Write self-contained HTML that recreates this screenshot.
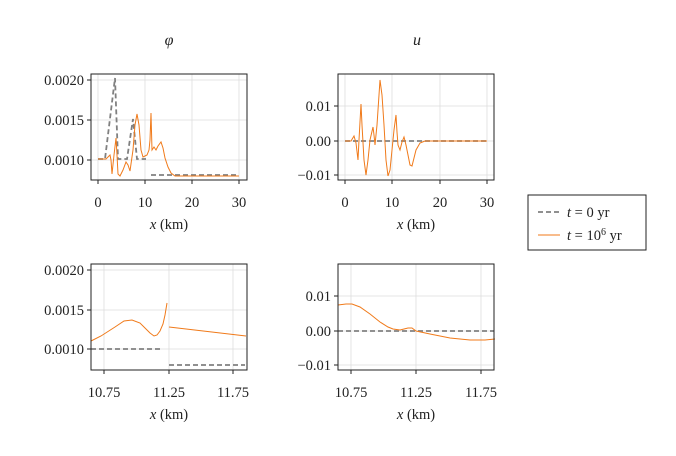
<!DOCTYPE html>
<html><head><meta charset="utf-8"><style>
body{margin:0;background:#fff}
svg text{font-family:"Liberation Serif","DejaVu Serif",serif;fill:#222}
</style></head><body>
<svg width="676" height="451" xmlns="http://www.w3.org/2000/svg">
<rect width="676" height="451" fill="#fff"/>
<g stroke="#ddd" stroke-width="0.8">
<line x1="98" y1="74" x2="98" y2="180"/><line x1="145" y1="74" x2="145" y2="180"/><line x1="192" y1="74" x2="192" y2="180"/><line x1="239" y1="74" x2="239" y2="180"/>
<line x1="91" y1="80" x2="247" y2="80"/><line x1="91" y1="120" x2="247" y2="120"/><line x1="91" y1="160" x2="247" y2="160"/>
<line x1="345" y1="74" x2="345" y2="180"/><line x1="392" y1="74" x2="392" y2="180"/><line x1="440" y1="74" x2="440" y2="180"/><line x1="487" y1="74" x2="487" y2="180"/>
<line x1="338" y1="106" x2="494" y2="106"/><line x1="338" y1="141" x2="494" y2="141"/><line x1="338" y1="175" x2="494" y2="175"/>
<line x1="104" y1="264" x2="104" y2="370"/><line x1="169" y1="264" x2="169" y2="370"/><line x1="233" y1="264" x2="233" y2="370"/>
<line x1="91" y1="270" x2="247" y2="270"/><line x1="91" y1="310" x2="247" y2="310"/><line x1="91" y1="349" x2="247" y2="349"/>
<line x1="351" y1="264" x2="351" y2="370"/><line x1="416" y1="264" x2="416" y2="370"/><line x1="481" y1="264" x2="481" y2="370"/>
<line x1="338" y1="296" x2="494" y2="296"/><line x1="338" y1="331" x2="494" y2="331"/><line x1="338" y1="365" x2="494" y2="365"/>
</g>
<g fill="none" stroke="#808080" stroke-width="1.8" stroke-dasharray="5,3">
<polyline points="98,159 105,159 115,78 118,159 127,159 133,119 137,159 146,159"/>
<polyline points="151,175 239,175"/>
<polyline points="345,141 487,141"/>
<polyline points="91,349 163,349"/><polyline points="169,365 245,365"/>
<polyline points="338,331 494,331"/>
</g>
<g fill="none" stroke="#f07a1a" stroke-width="1">
<polyline points="98,159 106,159 109,156 110,155 111,160 112,174 114,155 116,138 117,155 118,174 120,176 123,170 126,162 128,165 130,171 133,150 135,125 137,114 139,125 141,150 143,157 147,155 149,150 150,140 151,113 152,150 154,147 156,150 158,146 161,142 163,148 165,158 168,167 171,173 175,176 239,176"/>
<polyline points="345,141 351,141 354,136 356,143 358,160 359,140 361,104 362,125 364,160 366,175 368,160 370,140 373,127 374,135 375,145 377,125 379,95 380,80 382,95 384,125 386,160 388,176 390,170 392,150 394,130 396,115 397,132 398,145 400,150 402,142 404,137 406,145 408,155 410,165 412,166 414,158 416,150 420,143 425,141 487,141"/>
<polyline points="91,341 101,336 115,327 124,321 132,320 140,323 146,329 150,333 154,336 157,335 160,331 163,324 165,315 167,303"/>
<polyline points="169,327 246,336"/>
<polyline points="338,305 346,304 352,304 360,307 370,314 380,322 388,327 393,329 400,330 404,329 408,328 412,328 416,331 430,334 450,338 470,340 485,340 495,339"/>
</g>
<g fill="none" stroke="#222" stroke-width="1">
<rect x="91" y="74" width="156" height="106"/><rect x="338" y="74" width="156" height="106"/>
<rect x="91" y="264" width="156" height="106"/><rect x="338" y="264" width="156" height="106"/>
<path d="M98,180v4M145,180v4M192,180v4M239,180v4M91,80h-4M91,120h-4M91,160h-4"/>
<path d="M345,180v4M392,180v4M440,180v4M487,180v4M338,106h-4M338,141h-4M338,175h-4"/>
<path d="M104,370v4M169,370v4M233,370v4M91,270h-4M91,310h-4M91,349h-4"/>
<path d="M351,370v4M416,370v4M481,370v4M338,296h-4M338,331h-4M338,365h-4"/>
</g>
<g font-size="14.5">
<text x="169" y="45" text-anchor="middle" font-style="italic" font-size="16">φ</text>
<text x="417" y="45" text-anchor="middle" font-style="italic" font-size="16">u</text>
<g text-anchor="end">
<text x="84" y="85">0.0020</text><text x="84" y="125">0.0015</text><text x="84" y="165">0.0010</text>
<text x="331" y="111">0.01</text><text x="331" y="146">0.00</text><text x="331" y="180">−0.01</text>
<text x="84" y="275">0.0020</text><text x="84" y="315">0.0015</text><text x="84" y="354">0.0010</text>
<text x="331" y="301">0.01</text><text x="331" y="336">0.00</text><text x="331" y="370">−0.01</text>
</g>
<g text-anchor="middle">
<text x="98" y="207">0</text><text x="145" y="207">10</text><text x="192" y="207">20</text><text x="239" y="207">30</text>
<text x="345" y="207">0</text><text x="392" y="207">10</text><text x="440" y="207">20</text><text x="487" y="207">30</text>
<text x="104" y="397">10.75</text><text x="169" y="397">11.25</text><text x="233" y="397">11.75</text>
<text x="351" y="397">10.75</text><text x="416" y="397">11.25</text><text x="481" y="397">11.75</text>
<text x="169" y="229"><tspan font-style="italic">x</tspan> (km)</text>
<text x="416" y="229"><tspan font-style="italic">x</tspan> (km)</text>
<text x="169" y="419"><tspan font-style="italic">x</tspan> (km)</text>
<text x="416" y="419"><tspan font-style="italic">x</tspan> (km)</text>
</g>
</g>
<rect x="528" y="195" width="118" height="55" fill="#fff" stroke="#222" stroke-width="1"/>
<line x1="538" y1="212" x2="560" y2="212" stroke="#808080" stroke-width="1.8" stroke-dasharray="5,3"/>
<line x1="538" y1="235" x2="560" y2="235" stroke="#f07a1a" stroke-width="1"/>
<text x="567" y="217" font-size="14.5"><tspan font-style="italic">t</tspan> = 0 yr</text>
<text x="567" y="240" font-size="14.5"><tspan font-style="italic">t</tspan> = 10<tspan font-size="10" dy="-5">6</tspan><tspan dy="5"> yr</tspan></text>
</svg>
</body></html>
